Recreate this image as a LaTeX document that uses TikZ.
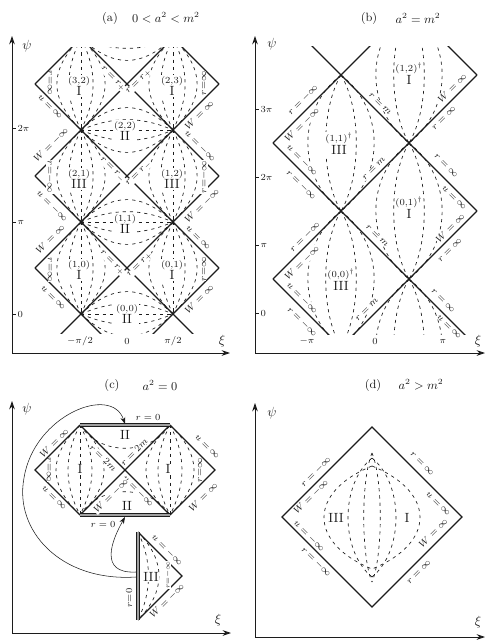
\documentclass[tikz,border=0pt]{standalone}
\usepackage{xcolor}
\usepackage{tikz}
\usetikzlibrary{arrows.meta}
\definecolor{encre}{HTML}{1C1C1C}
\definecolor{grisbord}{HTML}{A0A0A0}
\tikzset{
  frontiere/.style={line width=0.9pt, color=encre},
  pointille/.style={dash pattern=on 2.4pt off 3pt, line width=0.5pt, color=encre},
  horizon/.style={draw=encre, line width=0.5pt, double=grisbord, double distance=1.5pt},
  axe/.style={-{Stealth[length=2.2mm, width=1.5mm]}, line width=0.7pt, color=encre},
  renvoi/.style={-{Stealth[length=1.8mm, width=1.3mm]}, line width=0.4pt, color=encre},
  trait/.style={line width=0.6pt, color=encre},
  etiq/.style={font=\scriptsize, text=encre, fill=white, inner sep=0.3pt},
  secteur/.style={font=\scriptsize, text=encre, fill=white, inner sep=0.6pt, align=center},
  chiffre/.style={font=\normalsize, text=encre, fill=white, inner sep=0.6pt},
  titre/.style={font=\small, text=encre},
  graduation/.style={font=\scriptsize, text=encre, inner sep=1pt}
}
\begin{document}
\begin{tikzpicture}[x=0.75pt, y=-0.75pt]
  \useasboundingbox (0,0) rectangle (487,640);

  % ---------- (a) 0 < a^2 < m^2
  \node[titre] (ta) at (110,18) {(a)};
  \node[titre] (tta) at (166,18) {$0<a^2<m^2$};
  \coordinate (oa) at (12,353);
  \coordinate (psia) at (12,36);
  \coordinate (xia) at (230,353);
  \draw[axe] (oa) -- (psia);
  \draw[axe] (oa) -- (xia);
  \node[graduation, font=\normalsize] (lpsia) at (27,46) {$\psi$};
  \node[graduation, font=\normalsize] (lxia) at (222,341) {$\xi$};
  \foreach \y/\t in {128/2\pi, 222/\pi, 314/0} {
    \draw[trait] (12,\y) -- (16,\y);
    \node[graduation, anchor=west] (ga\y) at (16,\y) {$\t$};
  }
  \node[graduation] (gxa1) at (80,341) {$-\pi/2$};
  \node[graduation] (gxa2) at (127,341) {$0$};
  \node[graduation] (gxa3) at (173,341) {$\pi/2$};

  \begin{scope}[shift={(127,314)}, x=34.5pt, y=34.5pt]
    \clip (-2.1,-0.42) rectangle (2.1,5.8);
    \foreach \c in {-1,1,3,5,7} {
      \draw[frontiere] (-2,\c-2) -- (2,\c+2);
      \draw[frontiere] (-2,\c+2) -- (2,\c-2);
    }
    % domaines I et III : fuseaux verticaux
    \foreach \cx in {-1,1} \foreach \cy in {1,3,5} {
      \draw[pointille] (\cx,\cy+1) -- (\cx,\cy-1);
      \foreach \d in {0.35,0.7} {
        \draw[pointille] (\cx,\cy+1) .. controls (\cx-\d,\cy+0.3) and (\cx-\d,\cy-0.3) .. (\cx,\cy-1);
        \draw[pointille] (\cx,\cy+1) .. controls (\cx+\d,\cy+0.3) and (\cx+\d,\cy-0.3) .. (\cx,\cy-1);
      }
    }
    % domaines II : fuseaux horizontaux
    \foreach \cy in {0,2,4,6} {
      \draw[pointille] (-1,\cy) -- (1,\cy);
      \foreach \d in {0.3,0.65} {
        \draw[pointille] (-1,\cy) .. controls (-0.3,\cy+\d) and (0.3,\cy+\d) .. (1,\cy);
        \draw[pointille] (-1,\cy) .. controls (-0.3,\cy-\d) and (0.3,\cy-\d) .. (1,\cy);
      }
    }
  \end{scope}

  \node[secteur] (sa1) at (79,86) {(3,2)\\{\normalsize I}};
  \node[secteur] (sa2) at (172,86) {(2,3)\\{\normalsize I}};
  \node[secteur] (sa3) at (125,131) {(2,2)\\{\normalsize II}};
  \node[secteur] (sa4) at (79,179) {(2,1)\\{\normalsize III}};
  \node[secteur] (sa5) at (172,179) {(1,2)\\{\normalsize III}};
  \node[secteur] (sa6) at (125,224) {(1,1)\\{\normalsize II}};
  \node[secteur] (sa7) at (79,270) {(1,0)\\{\normalsize I}};
  \node[secteur] (sa8) at (172,270) {(0,1)\\{\normalsize I}};
  \node[secteur] (sa9) at (127,314) {(0,0)\\{\normalsize II}};

  \node[etiq, rotate=-90] (ea1) at (50,83) {$r{=}\infty$};
  \node[etiq, rotate=-45] (ea2) at (50,107) {$u=\infty$};
  \node[etiq, rotate=45] (ea3) at (51,145) {$W=-\infty$};
  \node[etiq, rotate=-90] (ea4) at (50,177) {$r{=}{-\infty}$};
  \node[etiq, rotate=-45] (ea5) at (52,206) {$u=-\infty$};
  \node[etiq, rotate=45] (ea6) at (50,239) {$W=\infty$};
  \node[etiq, rotate=-90] (ea7) at (50,270) {$r{=}\infty$};
  \node[etiq, rotate=-45] (ea8) at (53,298) {$u=\infty$};
  \node[etiq, rotate=-45] (ea9) at (113,79) {$r=r_+$};
  \node[etiq, rotate=-45] (ea10) at (112,170) {$r=r_-$};
  \node[etiq, rotate=-45] (ea11) at (112,263) {$r=r_+$};
  \node[etiq, rotate=45] (ea12) at (139,82) {$r=r_+$};
  \node[etiq, rotate=45] (ea13) at (139,174) {$r=r_-$};
  \node[etiq, rotate=45] (ea14) at (140,265) {$r=r_+$};
  \node[etiq, rotate=90] (ea15) at (204,83) {$r{=}\infty$};
  \node[etiq, rotate=45] (ea16) at (199,115) {$W=\infty$};
  \node[etiq, rotate=-45] (ea17) at (200,146) {$u=-\infty$};
  \node[etiq, rotate=90] (ea18) at (204,177) {$r{=}{-\infty}$};
  \node[etiq, rotate=45] (ea19) at (202,206) {$W=-\infty$};
  \node[etiq, rotate=-45] (ea20) at (198,238) {$u=\infty$};
  \node[etiq, rotate=90] (ea21) at (204,269) {$r{=}\infty$};
  \node[etiq, rotate=45] (ea22) at (199,299) {$W=\infty$};

  % ---------- (b) a^2 = m^2
  \node[titre] (tb) at (369,18) {(b)};
  \node[titre] (ttb) at (418,18) {$a^2=m^2$};
  \coordinate (ob) at (255,353);
  \coordinate (psib) at (255,36);
  \coordinate (xib) at (485,353);
  \draw[axe] (ob) -- (psib);
  \draw[axe] (ob) -- (xib);
  \node[graduation, font=\normalsize] (lpsib) at (272,44) {$\psi$};
  \node[graduation, font=\normalsize] (lxib) at (478,341) {$\xi$};
  \foreach \y/\t in {109/3\pi, 177/2\pi, 245/\pi, 313/0} {
    \draw[trait] (255,\y) -- (259,\y);
    \node[graduation, anchor=west] (gb\y) at (259,\y) {$\t$};
  }
  \node[graduation] (gxb1) at (307,341) {$-\pi$};
  \node[graduation] (gxb2) at (375,341) {$0$};
  \node[graduation] (gxb3) at (443,341) {$\pi$};

  \begin{scope}[shift={(375,313)}, x=25.5pt, y=25.5pt]
    \clip (-3.1,-0.62) rectangle (3.1,7.85);
    \foreach \c in {0,4,8} \draw[frontiere] (-3,\c-3) -- (3,\c+3);
    \foreach \c in {-2,2,6,10} \draw[frontiere] (-3,\c+3) -- (3,\c-3);
    \foreach \cx/\cy in {-1/5, 1/7, 1/3, -1/1, 1/-1} {
      \foreach \d in {0.6,1.3} {
        \draw[pointille] (\cx,\cy+2) .. controls (\cx-\d,\cy+1) and (\cx-\d,\cy-1) .. (\cx,\cy-2);
        \draw[pointille] (\cx,\cy+2) .. controls (\cx+\d,\cy+1) and (\cx+\d,\cy-1) .. (\cx,\cy-2);
      }
    }
  \end{scope}

  \node[secteur] (sb1) at (409,74) {(1,2)$^{\dagger}$\\{\normalsize I}};
  \node[secteur] (sb2) at (339,144) {(1,1)$^{\dagger}$\\{\normalsize III}};
  \node[secteur] (sb3) at (409,208) {(0,1)$^{\dagger}$\\{\normalsize I}};
  \node[secteur] (sb4) at (341,280) {(0,0)$^{\dagger}$\\{\normalsize III}};

  \node[etiq, rotate=45] (eb1) at (303,100) {$r=-\infty$};
  \node[etiq, rotate=45] (eb2) at (302,125) {$W=-\infty$};
  \node[etiq, rotate=-45] (eb3) at (302,160) {$u=-\infty$};
  \node[etiq, rotate=-45] (eb4) at (301,185) {$r=-\infty$};
  \node[etiq, rotate=-45] (eb5) at (380,104) {$r=m$};
  \node[etiq, rotate=45] (eb6) at (452,88) {$W=\infty$};
  \node[etiq, rotate=45] (eb7) at (444,118) {$r=\infty$};
  \node[etiq, rotate=45] (eb8) at (374,169) {$r=m$};
  \node[etiq, rotate=-45] (eb9) at (446,166) {$r=\infty$};
  \node[etiq, rotate=-45] (eb10) at (454,198) {$u=\infty$};
  \node[etiq, rotate=45] (eb11) at (450,228) {$W=\infty$};
  \node[etiq, rotate=45] (eb12) at (450,250) {$r=\infty$};
  \node[etiq, rotate=45] (eb13) at (305,237) {$r=-\infty$};
  \node[etiq, rotate=45] (eb14) at (302,263) {$W=-\infty$};
  \node[etiq, rotate=-45] (eb15) at (302,298) {$u=-\infty$};
  \node[etiq, rotate=-45] (eb16) at (302,322) {$r=-\infty$};
  \node[etiq, rotate=-45] (eb17) at (377,236) {$r=m$};
  \node[etiq, rotate=45] (eb18) at (367,310) {$r=m$};
  \node[etiq, rotate=-45] (eb19) at (443,301) {$r=\infty$};
  \node[etiq, rotate=-45] (eb20) at (449,327) {$u=\infty$};

  % ---------- (c) a^2 = 0
  \node[titre] (tc) at (112,385) {(c)};
  \node[titre] (ttc) at (160,385) {$a^2=0$};
  \coordinate (oc) at (12,633);
  \coordinate (psic) at (12,401);
  \coordinate (xic) at (231,633);
  \draw[axe] (oc) -- (psic);
  \draw[axe] (oc) -- (xic);
  \node[graduation, font=\normalsize] (lpsic) at (27,409) {$\psi$};
  \node[graduation, font=\normalsize] (lxic) at (218,620) {$\xi$};

  \coordinate (cg) at (35,470);
  \coordinate (chg) at (80,425);
  \coordinate (cc) at (125,470);
  \coordinate (chd) at (170,425);
  \coordinate (cd) at (215,470);
  \coordinate (cbg) at (80,515);
  \coordinate (cbd) at (170,515);
  \coordinate (th) at (138,532);
  \coordinate (tb) at (138,620);
  \coordinate (td) at (182,576);

  \foreach \cx in {80,170} {
    \draw[pointille] (\cx,425) -- (\cx,515);
    \foreach \d in {16,32} {
      \draw[pointille] (\cx,425) .. controls (\cx-\d,456) and (\cx-\d,484) .. (\cx,515);
      \draw[pointille] (\cx,425) .. controls (\cx+\d,456) and (\cx+\d,484) .. (\cx,515);
    }
  }
  \draw[pointille] (chg) .. controls (100,456) and (150,456) .. (chd);
  \draw[pointille] (cbg) .. controls (100,484) and (150,484) .. (cbd);
  \foreach \d in {14,28} \draw[pointille] (th) .. controls (138+\d,561) and (138+\d,591) .. (tb);

  \draw[frontiere] (chg) -- (cg) -- (cbg);
  \draw[frontiere] (chd) -- (cd) -- (cbd);
  \draw[frontiere] (chg) -- (cbd);
  \draw[frontiere] (cbg) -- (chd);
  \draw[horizon] (chg) -- (chd);
  \draw[horizon] (cbg) -- (cbd);
  \draw[frontiere] (th) -- (td) -- (tb);
  \draw[horizon] (th) -- (tb);

  % renvois : le domaine III se recolle sur r = 0
  \coordinate (dep1) at (136,577);
  \coordinate (dep2) at (136,572);
  \coordinate (arr1) at (125,424);
  \coordinate (arr2) at (125,517);
  \draw[renvoi] (dep1) .. controls (60,582) and (14,530) .. (24,478) .. controls (34,415) and (112,384) .. (arr1);
  \draw[renvoi] (dep2) .. controls (98,574) and (112,540) .. (arr2);

  \node[etiq] (ec1) at (148,417) {$r=0$};
  \node[chiffre] (nc1) at (125,435) {II};
  \node[chiffre] (nc2) at (127,506) {II};
  \node[etiq] (ec2) at (103,524) {$r=0$};
  \node[chiffre] (nc3) at (80,469) {I};
  \node[chiffre] (nc4) at (168,469) {I};
  \node[etiq, rotate=45] (ec3) at (54,443) {$W=\infty$};
  \node[etiq, rotate=-90] (ec4) at (49,470) {$r{=}\infty$};
  \node[etiq, rotate=-45] (ec5) at (54,498) {$u=\infty$};
  \node[etiq, rotate=-45] (ec6) at (103,458) {$r=2m$};
  \node[etiq, rotate=45] (ec7) at (134,452) {$r=2m$};
  \node[etiq, rotate=-45] (ec8) at (138,491) {$u=-\infty$};
  \node[etiq, rotate=45] (ec9) at (111,496) {$W=-\infty$};
  \node[etiq, rotate=-45] (ec10) at (207,447) {$u=\infty$};
  \node[etiq, rotate=90] (ec11) at (200,470) {$r{=}\infty$};
  \node[etiq, rotate=45] (ec12) at (203,497) {$W=\infty$};
  \node[etiq, rotate=-45] (ec13) at (167,550) {$u=-\infty$};
  \node[etiq, rotate=45] (ec14) at (167,601) {$W=-\infty$};
  \node[etiq, rotate=90] (ec15) at (129,598) {$r{=}0$};
  \node[chiffre] (nc5) at (151,577) {III};
  \node[etiq, rotate=90, font=\tiny] (ec16) at (168,575) {$r{=}{-\infty}$};

  % ---------- (d) a^2 > m^2
  \node[titre] (td0) at (373,385) {(d)};
  \node[titre] (ttd) at (421,385) {$a^2>m^2$};
  \coordinate (od) at (255,637);
  \coordinate (psid) at (255,403);
  \coordinate (xid) at (485,637);
  \draw[axe] (od) -- (psid);
  \draw[axe] (od) -- (xid);
  \node[graduation, font=\normalsize] (lpsid) at (272,413) {$\psi$};
  \node[graduation, font=\normalsize] (lxid) at (478,622) {$\xi$};

  \coordinate (dh) at (372,427);
  \coordinate (dg) at (282,517);
  \coordinate (dd) at (462,517);
  \coordinate (db) at (372,607);
  \foreach \d/\h/\b in {11/453/582, 32/458/577, 64/466/569} {
    \draw[pointille] (372,\h) .. controls (372-\d,\h+26) and (372-\d,\b-26) .. (372,\b);
    \draw[pointille] (372,\h) .. controls (372+\d,\h+26) and (372+\d,\b-26) .. (372,\b);
  }
  \draw[frontiere] (dh) -- (dd) -- (db) -- (dg) -- cycle;

  \node[etiq, rotate=45] (ed1) at (316,472) {$r=-\infty$};
  \node[etiq, rotate=45] (ed2) at (311,497) {$W=-\infty$};
  \node[chiffre] (nd1) at (336,518) {III};
  \node[etiq, rotate=-45] (ed3) at (309,536) {$u=-\infty$};
  \node[etiq, rotate=-45] (ed4) at (316,562) {$r=-\infty$};
  \node[etiq, rotate=-45] (ed5) at (422,464) {$r=\infty$};
  \node[etiq, rotate=-45] (ed6) at (438,504) {$u=\infty$};
  \node[chiffre] (nd2) at (407,518) {I};
  \node[etiq, rotate=45] (ed7) at (433,533) {$W=\infty$};
  \node[etiq, rotate=45] (ed8) at (419,572) {$r=\infty$};
\end{tikzpicture}
\end{document}
